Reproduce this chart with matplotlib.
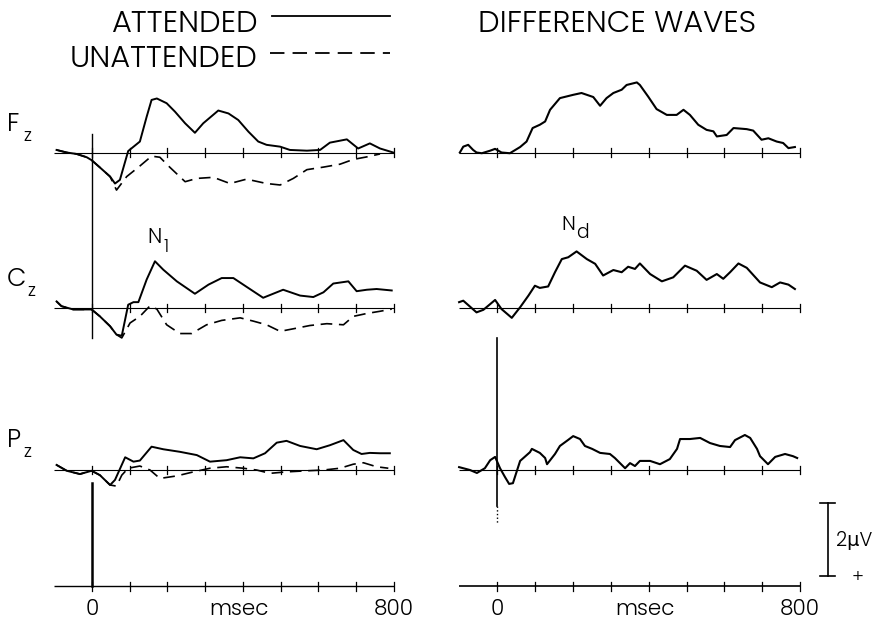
import matplotlib
matplotlib.use("Agg")
import matplotlib.pyplot as plt

# ---------------- data (time in ms, amplitude in microvolts, negative up) ----------------
FZ_ATT_T = [-94, -67, -41, -14, -1, 21, 48, 61, 74, 96, 127, 145, 158, 172, 198, 220, 247, 273, 295, 335,
            362, 388, 415, 441, 463, 499, 525, 570, 605, 631, 676, 706, 737, 764, 799]
FZ_ATT_V = [-0.07, 0.0, 0.04, 0.13, 0.21, 0.41, 0.66, 0.85, 0.75, -0.04, -0.30, -0.98, -1.44, -1.48, -1.35,
            -1.12, -0.80, -0.54, -0.80, -1.15, -1.07, -0.89, -0.57, -0.30, -0.21, -0.16, -0.07, -0.05, -0.07,
            -0.27, -0.36, -0.11, -0.25, -0.11, 0.0]
FZ_UNA_T = [-94, -67, -41, -14, -1, 21, 48, 65, 92, 127, 158, 180, 207, 247, 278, 322, 366, 410, 463, 499,
            534, 570, 614, 658, 693, 729, 764]
FZ_UNA_V = [-0.07, 0.0, 0.04, 0.13, 0.21, 0.41, 0.66, 1.03, 0.66, 0.37, 0.10, 0.13, 0.41, 0.80, 0.71, 0.68,
            0.85, 0.73, 0.85, 0.89, 0.71, 0.47, 0.40, 0.32, 0.19, 0.12, 0.04]

CZ_ATT_T = [-94, -81, -50, -1, 21, 48, 65, 79, 96, 110, 123, 145, 167, 189, 225, 273, 309, 344, 375, 410,
            454, 507, 552, 587, 614, 640, 680, 702, 729, 755, 795]
CZ_ATT_V = [-0.17, -0.04, 0.05, 0.05, 0.24, 0.51, 0.74, 0.77, -0.08, -0.15, -0.15, -0.77, -1.27, -1.04,
            -0.72, -0.38, -0.63, -0.81, -0.81, -0.57, -0.27, -0.49, -0.33, -0.29, -0.42, -0.66, -0.72, -0.45,
            -0.49, -0.51, -0.47]
CZ_UNA_T = [-94, -81, -50, -1, 21, 48, 65, 79, 101, 127, 154, 172, 198, 233, 264, 304, 344, 393, 428, 463,
            499, 534, 578, 623, 667, 693, 729, 764, 795]
CZ_UNA_V = [-0.17, -0.04, 0.05, 0.05, 0.24, 0.51, 0.74, 0.83, 0.42, 0.24, -0.05, 0.04, 0.47, 0.71, 0.71,
            0.47, 0.35, 0.28, 0.37, 0.47, 0.65, 0.58, 0.49, 0.44, 0.47, 0.24, 0.16, 0.10, 0.04]

PZ_ATT_T = [-94, -67, -32, -1, 21, 48, 61, 88, 110, 127, 158, 189, 233, 278, 313, 357, 393, 428, 459, 490,
            516, 552, 596, 631, 667, 693, 715, 737, 764, 790]
PZ_ATT_V = [-0.14, 0.02, 0.11, 0.02, 0.14, 0.41, 0.27, -0.35, -0.23, -0.26, -0.64, -0.57, -0.50, -0.41,
            -0.23, -0.27, -0.35, -0.32, -0.46, -0.75, -0.80, -0.66, -0.57, -0.68, -0.82, -0.55, -0.44, -0.47,
            -0.46, -0.46]
PZ_UNA_T = [-94, -67, -32, -1, 21, 48, 65, 79, 96, 127, 154, 180, 225, 269, 313, 357, 401, 437, 472, 516,
            570, 614, 658, 693, 720, 755, 786]
PZ_UNA_V = [-0.14, 0.02, 0.11, 0.02, 0.14, 0.41, 0.44, 0.14, -0.05, -0.11, 0.0, 0.23, 0.16, 0.05, -0.05,
            -0.09, -0.05, 0.0, 0.09, 0.05, 0.02, 0.0, -0.05, -0.16, -0.20, -0.09, -0.05]

# difference waves (attended minus unattended)
FZ_DIF_T = [-98, -89, -76, -63, -54, -40, -18, -5, 12, 34, 61, 78, 94, 113, 127, 140, 166, 201, 223, 254,
            272, 289, 307, 329, 342, 369, 377, 399, 421, 448, 474, 492, 509, 531, 553, 571, 580, 593, 606,
            624, 659, 676, 698, 716, 738, 755, 769, 786]
FZ_DIF_V = [0.0, -0.16, -0.21, -0.07, 0.0, 0.02, -0.05, -0.10, 0.0, 0.02, -0.15, -0.30, -0.67, -0.76, -0.85,
            -1.17, -1.49, -1.58, -1.63, -1.52, -1.28, -1.49, -1.63, -1.72, -1.85, -1.92, -1.85, -1.53, -1.19,
            -1.03, -1.03, -1.17, -1.03, -0.76, -0.62, -0.58, -0.44, -0.46, -0.48, -0.67, -0.64, -0.60, -0.35,
            -0.39, -0.30, -0.26, -0.12, -0.15]
CZ_DIF_T = [-100, -89, -54, -36, -5, 12, 39, 61, 83, 100, 113, 135, 153, 171, 188, 210, 237, 259, 280, 307,
            329, 346, 364, 377, 404, 435, 465, 496, 527, 553, 580, 597, 615, 637, 659, 694, 725, 747, 769, 786]
CZ_DIF_V = [-0.15, -0.19, 0.13, 0.06, -0.21, 0.04, 0.28, -0.01, -0.33, -0.60, -0.54, -0.58, -0.97, -1.33,
            -1.38, -1.54, -1.33, -1.20, -0.88, -1.03, -0.97, -1.12, -1.06, -1.21, -0.92, -0.72, -0.83, -1.15,
            -1.01, -0.76, -0.92, -0.79, -0.97, -1.21, -1.09, -0.69, -0.56, -0.69, -0.63, -0.51]
PZ_DIF_T = [-100, -71, -53, -32, -18, -5, 8, 21, 32, 42, 61, 87, 92, 113, 127, 132, 153, 166, 187, 201, 219,
            232, 251, 272, 298, 311, 338, 351, 364, 377, 404, 430, 456, 475, 483, 509, 536, 562, 588, 615,
            628, 654, 668, 686, 694, 715, 734, 760, 781, 792]
PZ_DIF_V = [-0.08, 0.0, 0.08, -0.05, -0.27, -0.36, -0.05, 0.19, 0.38, 0.36, -0.25, -0.49, -0.58, -0.47,
            -0.33, -0.16, -0.44, -0.66, -0.82, -0.93, -0.85, -0.66, -0.58, -0.47, -0.44, -0.33, -0.05, -0.19,
            -0.11, -0.25, -0.25, -0.16, -0.30, -0.58, -0.85, -0.85, -0.88, -0.74, -0.66, -0.63, -0.82, -0.96,
            -0.88, -0.58, -0.38, -0.16, -0.36, -0.44, -0.38, -0.33]

ELECTRODES = ["F", "C", "P"]
TICK_TIMES = [0, 100, 200, 300, 400, 500, 600, 700, 800]
X_LABELS = ["0", "msec", "800"]
X_LABEL_TIMES = [0, 390, 800]
SCALE_UV = 2
LEGEND = ["ATTENDED", "UNATTENDED"]
RIGHT_TITLE = "DIFFERENCE WAVES"

# ---------------- layout ----------------
W, H = 881, 621
plt.rcParams['font.family'] = ['Poppins', 'DejaVu Sans']
plt.rcParams['font.weight'] = 300
fig = plt.figure(figsize=(W / 100, H / 100), dpi=100)

PX_PER_UV = 36.5
Y0 = 152.5          # pixel row of the Fz baseline
ROW_OFF = [0.0, 4.25, 8.70]   # row offsets in microvolt units
AXIS_OFF = 11.89


def make_col(zero_px, px_per_ms):
    ax = fig.add_axes([0, 0, 1, 1])
    ax.set_xlim(-zero_px / px_per_ms, (W - zero_px) / px_per_ms)
    ax.set_ylim((H - Y0) / PX_PER_UV, -Y0 / PX_PER_UV)
    ax.axis('off')
    return ax


axL = make_col(92, 0.377)
axR = make_col(497, 0.379)
ov = fig.add_axes([0, 0, 1, 1])
ov.set_xlim(0, W)
ov.set_ylim(H, 0)
ov.axis('off')

K = 'black'
TK = 0.11


def baseline(ax, off, lw=0.8):
    ax.plot([-100, 800], [off, off], color=K, lw=lw, solid_capstyle='butt')
    for t in TICK_TIMES:
        ax.plot([t, t], [off - TK, off + TK], color=K, lw=0.9)


for off in ROW_OFF:
    baseline(axL, off)
    baseline(axR, off)
baseline(axL, AXIS_OFF, lw=1.0)
baseline(axR, AXIS_OFF, lw=1.2)

att = [(FZ_ATT_T, FZ_ATT_V), (CZ_ATT_T, CZ_ATT_V), (PZ_ATT_T, PZ_ATT_V)]
una = [(FZ_UNA_T, FZ_UNA_V), (CZ_UNA_T, CZ_UNA_V), (PZ_UNA_T, PZ_UNA_V)]
dif = [(FZ_DIF_T, FZ_DIF_V), (CZ_DIF_T, CZ_DIF_V), (PZ_DIF_T, PZ_DIF_V)]

for off, (t, v) in zip(ROW_OFF, att):
    axL.plot(t, [off + x for x in v], color=K, lw=1.4, solid_joinstyle='round')
for off, (t, v) in zip(ROW_OFF, una):
    axL.plot(t, [off + x for x in v], color=K, lw=1.2, dashes=(7, 4))
for off, (t, v) in zip(ROW_OFF, dif):
    axR.plot(t, [off + x for x in v], color=K, lw=1.5, solid_joinstyle='round')

# stimulus onset lines
axL.plot([0, 0], [-0.52, 5.08], color=K, lw=1.0)
axL.plot([0, 0], [9.05, AXIS_OFF], color=K, lw=1.8)
axR.plot([0, 0], [5.08, 9.68], color=K, lw=1.2)
axR.plot([0, 0], [9.68, 10.15], color=K, lw=1.0, ls=':')

# scale bar
sb_t = 873
sb_top = 9.60
axR.plot([sb_t, sb_t], [sb_top, sb_top + SCALE_UV], color=K, lw=1.2)
for yy in (sb_top, sb_top + SCALE_UV):
    axR.plot([sb_t - 21, sb_t + 18], [yy, yy], color=K, lw=1.2)
ov.text(836, 546, "2\u03bcV", fontsize=14, ha='left', va='baseline', color=K)
ov.text(858, 578, "+", fontsize=13, ha='center', va='center', color=K)

# x labels
for ax in (axL, axR):
    for lab, t in zip(X_LABELS, X_LABEL_TIMES):
        ax.text(t, AXIS_OFF + 0.78, lab, fontsize=15.5, ha='center', va='baseline', color=K)

# titles / legend
ov.text(258, 32, LEGEND[0], fontsize=22, ha='right', va='baseline', color=K)
ov.text(258, 67, LEGEND[1], fontsize=22, ha='right', va='baseline', color=K)
ov.plot([272, 390], [16, 16], color=K, lw=1.3)
ov.plot([270, 390], [53, 53], color=K, lw=1.3, dashes=(8, 4.5))
ov.text(617, 32, RIGHT_TITLE, fontsize=22, ha='center', va='baseline', color=K)

# electrode labels
lab_base = [131, 286, 447]
for name, yb in zip(ELECTRODES, lab_base):
    ov.text(7, yb, name, fontsize=18, ha='left', va='baseline', color=K)
    ov.text(23 if name != "C" else 27, yb + 10, "z", fontsize=13, ha='left', va='baseline', color=K)

# component labels
ov.text(147, 243, "N", fontsize=15, ha='left', va='baseline', color=K)
ov.text(163, 252, "1", fontsize=12.5, ha='left', va='baseline', color=K)
ov.text(561, 230, "N", fontsize=14.5, ha='left', va='baseline', color=K)
ov.text(576, 238, "d", fontsize=13.5, ha='left', va='baseline', color=K)

fig.savefig("out.png", dpi=100)
